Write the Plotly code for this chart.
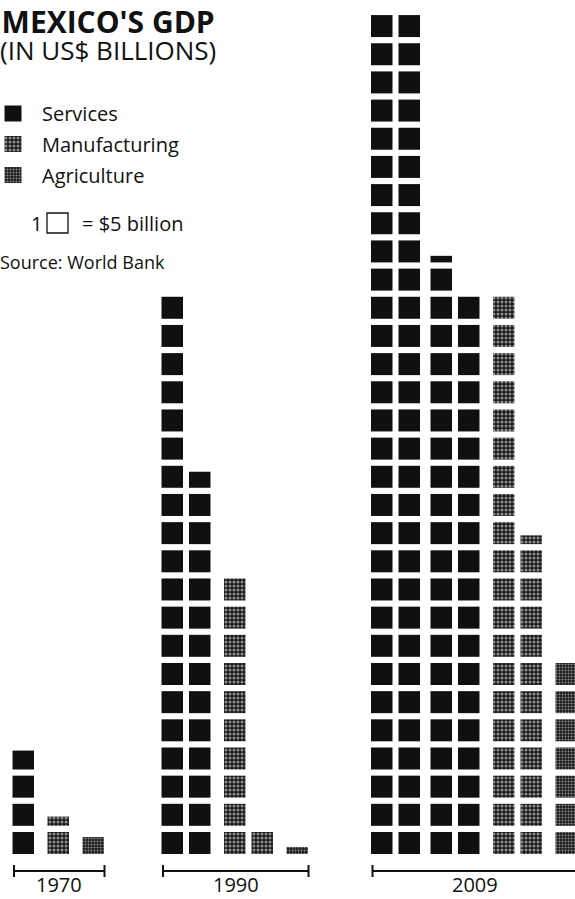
import plotly.graph_objects as go

# ---------------- data (US$ billions; one entry per column of squares) -------------
years = ["1970", "1990", "2009"]
sectors = ["Services", "Manufacturing", "Agriculture"]
square_value = 5  # 1 square = $5 billion

services_1970 = [19.3]
services_1990 = [100, 68.65]
services_2009 = [150, 150, 106.5, 100]

manufacturing_1970 = [7.1]
manufacturing_1990 = [50, 5]
manufacturing_2009 = [100, 57]

agriculture_1970 = [3.85]
agriculture_1990 = [1.6]
agriculture_2009 = [35]

columns = {
    "1970": [services_1970, manufacturing_1970, agriculture_1970],
    "1990": [services_1990, manufacturing_1990, agriculture_1990],
    "2009": [services_2009, manufacturing_2009, agriculture_2009],
}

# ---------------- layout constants (pixels) ----------------
W, H = 575, 899
SQ_W = 21.5
ROW_PX = 28.17
SQ_H = 22 / ROW_PX
BASE_PX = 854
PITCH_IN, PITCH_PAIR, PITCH_SECTOR = 27.5, 32, 35
group_left = {"1970": 12.5, "1990": 161.5, "2009": 371}

styles = {
    "Services": dict(color="#101010"),
    "Manufacturing": dict(color="#222", pattern=dict(shape=".", fgcolor="#ffffff",
                                                     bgcolor="#1a1a1a", size=4, solidity=0.45)),
    "Agriculture": dict(color="#222", pattern=dict(shape=".", fgcolor="#ffffff",
                                                   bgcolor="#1a1a1a", size=3, solidity=0.35)),
}

ymin = (BASE_PX - H) / ROW_PX
ymax = BASE_PX / ROW_PX

fig = go.Figure()

sq = {s: dict(x=[], base=[], h=[]) for s in sectors}
brackets = {}
for yr in years:
    x = group_left[yr]
    first = True
    lefts = []
    for s, cols in zip(sectors, columns[yr]):
        for ci, v in enumerate(cols):
            if not first:
                if ci == 0:
                    x += PITCH_SECTOR
                elif ci % 2 == 0:
                    x += PITCH_PAIR
                else:
                    x += PITCH_IN
            first = False
            lefts.append(x)
            n = v / square_value
            full = int(n + 1e-6)
            frac = n - full
            for k in range(full):
                sq[s]["x"].append(x + SQ_W / 2)
                sq[s]["base"].append(k)
                sq[s]["h"].append(SQ_H)
            if frac > 0.05:
                sq[s]["x"].append(x + SQ_W / 2)
                sq[s]["base"].append(full)
                sq[s]["h"].append(SQ_H * frac)
    brackets[yr] = (lefts[0] + 1.5, lefts[-1] + SQ_W + 0.5)

for s in sectors:
    d = sq[s]
    fig.add_trace(go.Bar(
        x=d["x"], y=d["h"], base=d["base"], width=[SQ_W] * len(d["x"]),
        marker=dict(line=dict(width=0), **styles[s]),
        name=s, showlegend=False, hoverinfo="skip",
    ))

# legend icons on a pixel overlay axis
legend_rows = {"Services": 113.5, "Manufacturing": 144, "Agriculture": 175}
for s in sectors:
    cy = legend_rows[s]
    fig.add_trace(go.Bar(
        x=[13], y=[16], base=[cy - 8], width=[17],
        marker=dict(line=dict(width=0), **styles[s]),
        xaxis="x2", yaxis="y2", showlegend=False, hoverinfo="skip",
    ))

FONT = "Open Sans, Lato, sans-serif"
shapes = []
annotations = []

def ann(text, x, y, size, xanchor="left", yanchor="middle", bold=False, xref="paper"):
    annotations.append(dict(
        text=f"<b>{text}</b>" if bold else text,
        x=x / W if xref == "paper" else x, y=1 - y / H, xref=xref, yref="paper",
        xanchor=xanchor, yanchor=yanchor, showarrow=False, borderpad=0,
        font=dict(family=FONT, size=size, color="#111"),
    ))

# axis brackets and year labels
AX_PX = 871
for yr in years:
    x0, x1 = brackets[yr]
    shapes.append(dict(type="line", xref="x", yref="y2", x0=x0, x1=x1, y0=AX_PX, y1=AX_PX,
                       line=dict(color="#111", width=2)))
    for xx in (x0, x1):
        shapes.append(dict(type="line", xref="x", yref="y2", x0=xx, x1=xx,
                           y0=AX_PX - 6, y1=AX_PX + 6, line=dict(color="#111", width=2)))
    ann(yr, (x0 + x1) / 2, 899, 20, xanchor="center", yanchor="bottom", xref="x")

# title block (two lines in one text)
ann("<span style='font-size:30px'><b>MEXICO'S GDP</b></span><br>"
    "<span style='font-size:26px'>(IN US$ BILLIONS)</span>",
    -1, 0, 21, yanchor="top")
for s in sectors:
    ann(s, 41, legend_rows[s], 20)
ann("1", 30, 223, 20)
shapes.append(dict(type="rect", xref="x2", yref="y2", x0=47, x1=68, y0=213, y1=233,
                   line=dict(color="#111", width=1.3)))
ann("= $5 billion", 81, 223, 20)
ann("Source: World Bank", -1, 262, 18)

fig.update_layout(
    width=W, height=H, margin=dict(l=0, r=0, t=0, b=0),
    paper_bgcolor="white", plot_bgcolor="white",
    barmode="overlay", showlegend=False,
    xaxis=dict(range=[0, W], visible=False, fixedrange=True),
    yaxis=dict(range=[ymin, ymax], visible=False, fixedrange=True),
    xaxis2=dict(range=[0, W], visible=False, overlaying="x", fixedrange=True),
    yaxis2=dict(range=[H, 0], visible=False, overlaying="y", fixedrange=True),
    shapes=shapes, annotations=annotations,
)

fig.write_html("out.html")
